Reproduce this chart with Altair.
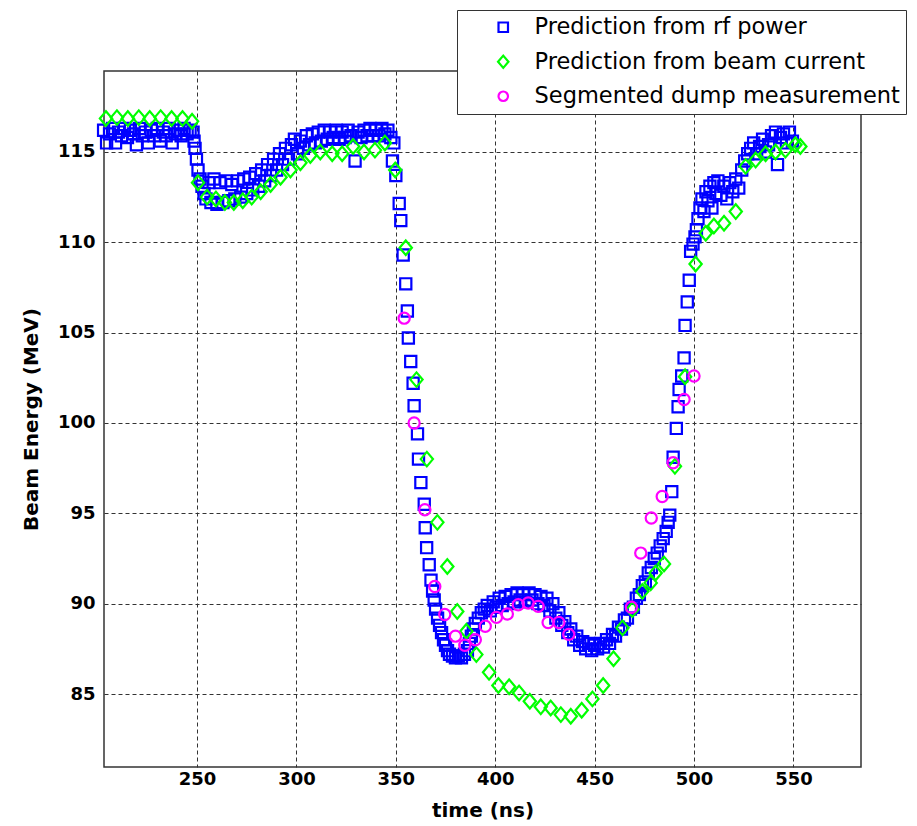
import altair as alt
import pandas as pd

series_names = ["Prediction from rf power", "Prediction from beam current", "Segmented dump measurement"]
series_colors = ["#0000FF", "#00FF00", "#FF00FF"]
series_shapes = ["square", "M-1.1,0L0,-1.3L1.1,0L0,1.3Z", "circle"]

x_ticks = [250, 300, 350, 400, 450, 500, 550]
y_ticks = [85, 90, 95, 100, 105, 110, 115]

rf_time = [
    203, 204.5, 206, 207.5, 209, 210.5, 212, 213.5, 215, 216.5, 218, 219.5, 221, 222.5, 224, 225.5,
    227, 228.5, 230, 231.5, 233, 234.5, 236, 237.5, 239, 240.5, 242, 243.5, 245, 246.5, 248,
    248.5, 249, 249.7, 250.5, 251.5, 252.5, 253.5, 254.5, 256, 257, 258.5, 260, 261.5, 263, 264.5,
    266, 267.5, 269, 270.5, 272, 273.5, 275, 276.5, 278, 279.5, 281, 282.5, 284, 285.5, 287, 288.5,
    290, 291.5, 293, 294.5, 296, 297.5, 299, 300.5, 302, 303.5, 305, 306.5, 308, 309.5, 311, 312.5,
    314, 315.5, 317, 318.5, 320, 321.5, 323, 324.5, 326, 327.5, 329.5, 331, 332.5, 334, 335.5, 337,
    338.5, 340, 341.5, 343, 344.5, 346, 347.5, 348.3, 349,
    350, 351.7, 352.5, 353.7, 355, 355.8, 356.3, 357.5, 358.7, 359.2, 360.9, 361.4, 362.6, 364.3,
    364.8, 365.5, 366.8, 367.7, 368.5, 369.3, 370, 371, 372, 373, 374, 375, 376, 377, 378.5, 380,
    381.5, 383, 384.5, 386, 387, 388, 389, 390, 391.5, 393, 394.5, 396, 397.5, 399, 400.5, 402,
    403.5, 405, 406.5, 408, 409.5, 411, 412.5, 414, 415.5, 417, 418.5, 420, 421.5, 423, 424.5, 426,
    427.5, 429, 430.5, 432, 433.5, 435, 436.5, 438, 439.5, 441, 442.5, 444, 445.5, 447, 448.5, 450,
    451.5, 453, 454.5, 456, 457.5, 459, 460.5, 462, 463.5, 465, 466.5, 468, 469.5, 471, 472.5, 474,
    475.5, 477, 478.5, 480, 481.5, 483, 484.5, 486, 487, 487.8, 488.8, 489.5, 491.1, 492, 492.5,
    493.8, 495, 495.5, 496.6, 497.6, 498.3, 499.5, 500.5, 501.2, 502, 503, 504, 505, 506, 507, 508,
    509, 510, 511, 512, 513.5, 515, 516.5, 518, 519.5, 521, 522.5, 524, 525.5, 527, 528.5, 530,
    531.5, 533, 534.5, 536, 537.5, 539, 541, 542, 543.5, 545, 546.5, 548, 549.5,
]
rf_energy = [
    116.2, 115.5, 116.0, 116.3, 115.5, 116.1, 115.9, 116.3, 115.8, 116.2, 116.0, 115.4, 116.3, 115.9, 116.1, 115.5,
    116.2, 115.9, 116.3, 115.6, 116.1, 115.9, 116.3, 115.5, 116.0, 116.2, 115.9, 116.3, 116.0, 116.2, 116.1,
    115.6, 115.2, 114.6, 114.0, 113.5, 113.1, 112.7, 112.4, 113.3, 112.2, 113.5, 112.1, 113.3, 112.2, 113.4,
    112.3, 113.2, 112.4, 113.4, 112.5, 113.5, 112.7, 113.6, 112.9, 113.8, 113.1, 114.0, 113.4, 114.3, 113.7, 114.6,
    114.0, 114.9, 114.3, 115.2, 114.6, 115.4, 115.7, 114.9, 115.6, 115.2, 115.9, 115.4, 116.0, 115.5, 116.1, 115.6,
    116.2, 115.7, 116.1, 115.8, 116.2, 115.7, 116.1, 115.8, 116.2, 115.9, 114.5, 116.1, 115.8, 116.2, 115.9, 116.3,
    115.9, 116.2, 115.9, 116.3, 116.0, 116.2, 115.8, 114.5, 115.5,
    113.7, 112.15, 111.2, 109.3, 107.7, 106.2, 104.7, 103.4, 102.2, 100.95, 99.4, 98.0, 96.7, 95.5,
    94.2, 93.1, 92.15, 91.3, 90.7, 90.2, 89.7, 89.2, 88.8, 88.4, 88.0, 87.7, 87.4, 87.2, 87.1, 87.0,
    87.1, 87.0, 87.2, 87.4, 87.8, 88.2, 88.6, 88.9, 89.2, 89.5, 89.7, 89.9, 89.6, 90.1, 89.8, 90.3,
    89.9, 90.4, 90.0, 90.5, 90.1, 90.6, 90.2, 90.5, 90.1, 90.6, 90.2, 90.5, 90.0, 90.4, 89.9, 90.3,
    89.6, 90.0, 89.2, 89.5, 88.8, 89.0, 88.4, 88.6, 88.0, 88.2, 87.7, 87.9, 87.5, 87.8, 87.4, 87.7,
    87.5, 87.8, 87.6, 88.0, 87.8, 88.3, 88.2, 88.7, 88.6, 89.1, 89.2, 89.7, 89.8, 90.3, 90.5, 91.0,
    91.2, 91.7, 92.0, 92.5, 92.8, 93.2, 93.6, 94.0, 94.5, 94.9, 96.2, 98.1, 99.7, 100.9, 101.85,
    102.6, 103.6, 105.4, 106.7, 107.9, 109.5, 109.9, 110.3, 110.7, 111.3, 111.9, 112.4, 111.7, 112.8, 112.3, 113.1,
    111.9, 113.3, 112.7, 113.4, 112.6, 113.1, 112.4, 113.3, 112.8, 113.5, 113.0, 114.0, 114.5, 114.9, 115.2, 115.5,
    114.9, 115.3, 115.7, 115.0, 115.4, 115.9, 116.1, 114.3, 115.8, 116.0, 115.5, 116.1, 115.6,
]

bc_time = [
    204.2, 209.7, 215.2, 220.7, 226.2, 231.7, 237.2, 242.7, 247.5, 250.5, 255, 259.5, 264, 268.5,
    273, 277.5, 282, 287, 292, 297, 302, 307, 312, 318, 323, 328.5, 334, 339.5, 344.5, 349.7, 355,
    360.4, 365.6, 370.9, 375.9, 380.9, 385.5, 390.5, 396.9, 401.6, 407, 412, 417.4, 422.9, 427.9,
    433, 438, 443.5, 448.9, 454.3, 459.5, 464, 469, 474, 478.2, 480.7, 484.9, 490.4, 495.5, 500.8,
    505.9, 510, 515.1, 521, 526, 531, 536, 541, 546, 551, 553.5,
]
bc_energy = [
    116.85, 116.9, 116.85, 116.9, 116.85, 116.9, 116.85, 116.85, 116.7, 113.3, 112.5, 112.4, 112.2, 112.2,
    112.3, 112.5, 112.8, 113.2, 113.6, 114.0, 114.4, 114.8, 115.0, 114.9, 114.9, 115.3, 115.0, 115.1, 115.5, 114.0, 109.7,
    102.4, 98.0, 94.5, 92.06, 89.57, 88.47, 87.18, 86.2, 85.47, 85.4, 85.06, 84.6, 84.29, 84.23,
    83.86, 83.77, 84.1, 84.73, 85.47, 86.95, 88.66, 89.67, 90.68, 91.15, 91.7, 92.2, 97.6, 102.56, 108.8,
    110.5, 110.9, 111.05, 111.7, 114.2, 114.55, 114.9, 115.0, 115.1, 115.4, 115.3,
]

sd_time = [
    354.2, 359.2, 364.6, 369.6, 374.6, 380, 384.7, 390, 395, 400.6, 406.1, 411.6, 416.6, 421.6,
    426.6, 432, 437, 468.5, 473.2, 478.5, 484, 489.5, 495, 500,
]
sd_energy = [
    105.8, 100.0, 95.2, 90.95, 89.4, 88.2, 87.7, 88.0, 88.75, 89.24, 89.43, 89.94, 90.04, 89.85,
    88.96, 88.96, 88.3, 89.8, 92.8, 94.74, 95.93, 97.8, 101.3, 102.6,
]

frames = []
for name, t, e in [(series_names[0], rf_time, rf_energy),
                   (series_names[1], bc_time, bc_energy),
                   (series_names[2], sd_time, sd_energy)]:
    frames.append(pd.DataFrame({"time": t, "energy": e, "series": name}))
df = pd.concat(frames, ignore_index=True)
df["idx"] = range(len(df))

FONT = "DejaVu Sans"

leg = alt.Legend(
    orient="none", legendX=353, legendY=-61, title=None,
    fillColor="white", strokeColor="#333333", padding=6,
    labelFont=FONT, labelFontSize=22.5, labelColor="black", labelLimit=600,
    symbolSize=90, symbolStrokeWidth=2.2, symbolOffset=29, labelOffset=20,
    rowPadding=11.5,
)

axis_common = dict(
    grid=True, gridDash=[4, 3], gridColor="#333333", gridWidth=1, gridOpacity=1,
    domain=False, ticks=False,
    labelFont=FONT, labelFontSize=18, labelFontWeight="bold", labelColor="black",
    titleFont=FONT, titleFontSize=20, titleFontWeight="bold", titleColor="black",
)

chart = alt.Chart(df).mark_point(filled=False, strokeWidth=2.2, size=125, opacity=1).encode(
    x=alt.X("time:Q", scale=alt.Scale(domain=[203.2, 584], nice=False, zero=False),
            axis=alt.Axis(values=x_ticks, title="time (ns)", labelPadding=3, titlePadding=12, **axis_common)),
    y=alt.Y("energy:Q", scale=alt.Scale(domain=[80.96, 119.48], nice=False, zero=False),
            axis=alt.Axis(values=y_ticks, title="Beam Energy (MeV)", labelPadding=9, titlePadding=16, **axis_common)),
    color=alt.Color("series:N", scale=alt.Scale(domain=series_names, range=series_colors), legend=leg),
    shape=alt.Shape("series:N", scale=alt.Scale(domain=series_names, range=series_shapes), legend=leg),
    order=alt.Order("idx:Q"),
).properties(
    width=757, height=696,
    padding={"left": 96, "top": 63, "right": 48, "bottom": 55},
    autosize=alt.AutoSizeParams(type="none"),
).configure_view(stroke="#333333", strokeWidth=1.5)

chart.save("out.html", embed_options={"renderer": "svg", "actions": False})
